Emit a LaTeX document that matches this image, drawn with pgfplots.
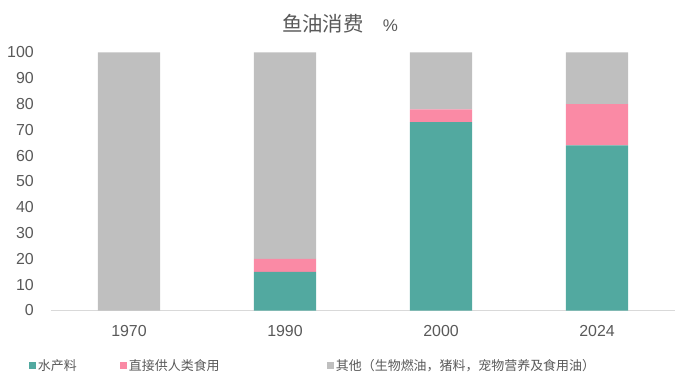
\documentclass[border=0pt]{standalone}
\usepackage{fontspec}
\setmainfont{Liberation Sans}
\newfontfamily\cjk{Noto Sans CJK SC}
\usepackage{pgfplots}
\pgfplotsset{compat=1.18}
\definecolor{teal1}{RGB}{82,169,160}
\definecolor{pink1}{RGB}{250,138,165}
\definecolor{gray1}{RGB}{191,191,191}
\definecolor{txt}{RGB}{89,89,89}
\definecolor{axl}{RGB}{217,217,217}
\begin{document}
\begin{tikzpicture}[x=1bp,y=1bp]
\useasboundingbox (-51,-74.5) rectangle (631,310.5);
\begin{axis}[
  at={(0,0)}, anchor=south west,
  scale only axis, width=624bp, height=258bp,
  ybar stacked, bar width=0.4,
  xmin=-0.5, xmax=3.5, ymin=0, ymax=100,
  xtick={0,1,2,3}, xticklabels={1970,1990,2000,2024},
  ytick={0,10,...,100},
  axis x line=bottom, axis y line=left,
  x axis line style={-, draw=axl, line width=0.75bp},
  y axis line style={draw=none},
  major tick length=0pt,
  /pgf/number format/assume math mode=true,
  tick label style={font=\fontsize{16}{18}\selectfont, color=txt},
  yticklabel style={inner sep=0pt, xshift=-17bp},
  xticklabel style={inner sep=0pt, yshift=-15bp},
  legend image code/.code={\fill[#1] (0bp,-3.5bp) rectangle (7bp,3.5bp);},
  legend columns=3,
  legend style={at={(-0.03526,-0.2132)}, anchor=west, draw=none, fill=none,
    inner sep=0pt, outer sep=0pt,
    nodes={inner sep=0pt, text=txt},
    font=\cjk\fontsize{13}{15}\selectfont,
    /tikz/every odd column/.append style={column sep=2bp},
    /tikz/every even column/.append style={column sep=0bp}},
]
\addplot+[fill=teal1, draw=none] coordinates {(0,0) (1,15) (2,73) (3,64)};
\addlegendentry{\makebox[82bp][l]{水产料}}
\addplot+[fill=pink1, draw=none] coordinates {(0,0) (1,5) (2,5) (3,16)};
\addlegendentry{\makebox[198bp][l]{直接供人类食用}}
\addplot+[fill=gray1, draw=none] coordinates {(0,100) (1,80) (2,22) (3,20)};
\addlegendentry{其他（生物燃油，猪料，宠物营养及食用油）}
\end{axis}
\node[text=txt] at (289,286.5) {{\cjk\fontsize{20.5}{24}\selectfont 鱼油消费}\hspace{19bp}{\fontsize{17}{20}\selectfont\%}};
\end{tikzpicture}
\end{document}
